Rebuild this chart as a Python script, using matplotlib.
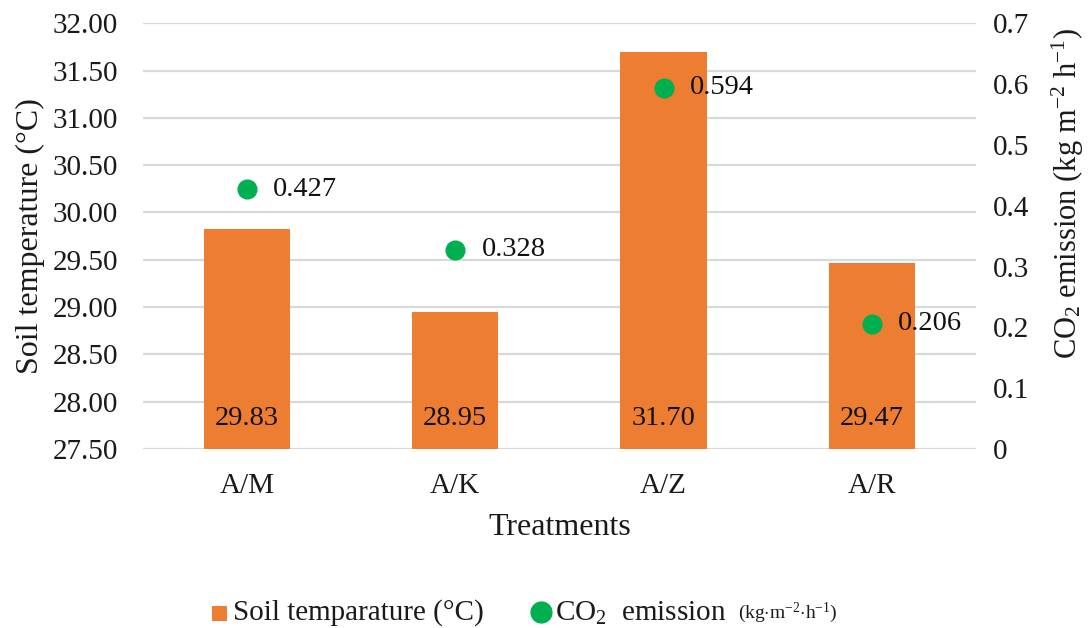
import matplotlib
matplotlib.use("Agg")
import matplotlib.pyplot as plt
from matplotlib.ticker import FuncFormatter, MultipleLocator
from matplotlib.lines import Line2D
from matplotlib.patches import Rectangle

plt.rcParams["font.family"] = ["Liberation Serif", "DejaVu Serif"]
plt.rcParams["mathtext.fontset"] = "custom"
plt.rcParams["mathtext.rm"] = "Liberation Serif"
plt.rcParams["mathtext.it"] = "Liberation Serif:italic"

# Data
treatments = ["A/M", "A/K", "A/Z", "A/R"]
soil_temp = [29.83, 28.95, 31.70, 29.47]
co2_emission = [0.427, 0.328, 0.594, 0.206]

bar_color = "#ED7D31"
dot_color = "#00B050"
grid_color = "#D9D9D9"
text_color = "#1a1a1a"

W, H = 1090, 628
fig = plt.figure(figsize=(W / 100, H / 100), dpi=100)
ax = fig.add_axes([0.131, 0.285, 0.7644, 0.678])
ax2 = ax.twinx()

x = list(range(len(treatments)))
ax.bar(x, soil_temp, width=0.415, color=bar_color, zorder=2)
ax.set_ylim(27.5, 32.0)
ax.set_xlim(-0.5, len(treatments) - 0.5)
ax.yaxis.set_major_locator(MultipleLocator(0.5))
ax.yaxis.set_major_formatter(FuncFormatter(lambda v, p: f"{v:.2f}"))
ax.grid(axis="y", color=grid_color, linewidth=1.6, zorder=0)
ax.set_axisbelow(True)
for s in ax.spines.values():
    s.set_visible(False)
ax.tick_params(axis="both", length=0, colors=text_color)
ax.tick_params(axis="y", labelsize=21, pad=18)
ax.tick_params(axis="x", labelsize=21, pad=17)
ax.set_xticks(x)
ax.set_xticklabels(treatments)

# Bar values inside the base of each bar
for xi, v in zip(x, soil_temp):
    ax.annotate(f"{v:.2f}", (xi, 27.5), xytext=(0, 22), textcoords="offset points",
                ha="center", va="center", fontsize=20.5, color="#111111", zorder=4)

ax.set_ylabel("Soil temperature (°C)", fontsize=23, color=text_color)
ax.yaxis.set_label_coords(-0.117, 0.5)
ax.set_xlabel("Treatments", fontsize=23, labelpad=10, color=text_color)

# CO2 emission points on the secondary axis
ax2.plot(x, co2_emission, linestyle="none", marker="o", markersize=13.5,
         color=dot_color, zorder=5)
ax2.set_ylim(0, 0.7)
ax2.yaxis.set_major_locator(MultipleLocator(0.1))
ax2.yaxis.set_major_formatter(FuncFormatter(lambda v, p: "0" if abs(v) < 1e-9 else f"{v:.1f}"))
for s in ax2.spines.values():
    s.set_visible(False)
ax2.tick_params(axis="y", length=0, labelsize=21, colors=text_color, pad=12)
for xi, v in zip(x, co2_emission):
    ax2.annotate(f"{v:.3f}", (xi, v), xytext=(19, 0), textcoords="offset points",
                 ha="left", va="center", fontsize=20.5, color="#111111")
ax2.set_ylabel(r"CO$_2$ emission (kg m$^{-2}$ h$^{-1}$)", fontsize=22,
               rotation=90, color=text_color)
ax2.yaxis.set_label_coords(1.089, 0.6)

# Legend along the bottom, laid out in pixel positions
def fx(px):
    return px / W

def fy(py):
    return 1 - py / H

leg_y = 613
fig.add_artist(Rectangle((fx(212), fy(leg_y + 8)), fx(15), 15 / H,
                         transform=fig.transFigure, facecolor=bar_color,
                         edgecolor="none"))
fig.text(fx(233), fy(leg_y), "Soil temparature (°C)", fontsize=21,
         ha="left", va="center", color=text_color)
fig.add_artist(Line2D([fx(541)], [fy(leg_y - 1)], transform=fig.transFigure,
                      linestyle="none", marker="o", markersize=15, color=dot_color))
fig.text(fx(555), fy(leg_y), r"CO$_2$  emission", fontsize=21,
         ha="left", va="center", color=text_color)
fig.text(fx(738), fy(leg_y), r"(kg$\cdot$m$^{-2}$$\cdot$h$^{-1}$)", fontsize=14,
         ha="left", va="center", color=text_color)

fig.savefig("out.png", dpi=100)
